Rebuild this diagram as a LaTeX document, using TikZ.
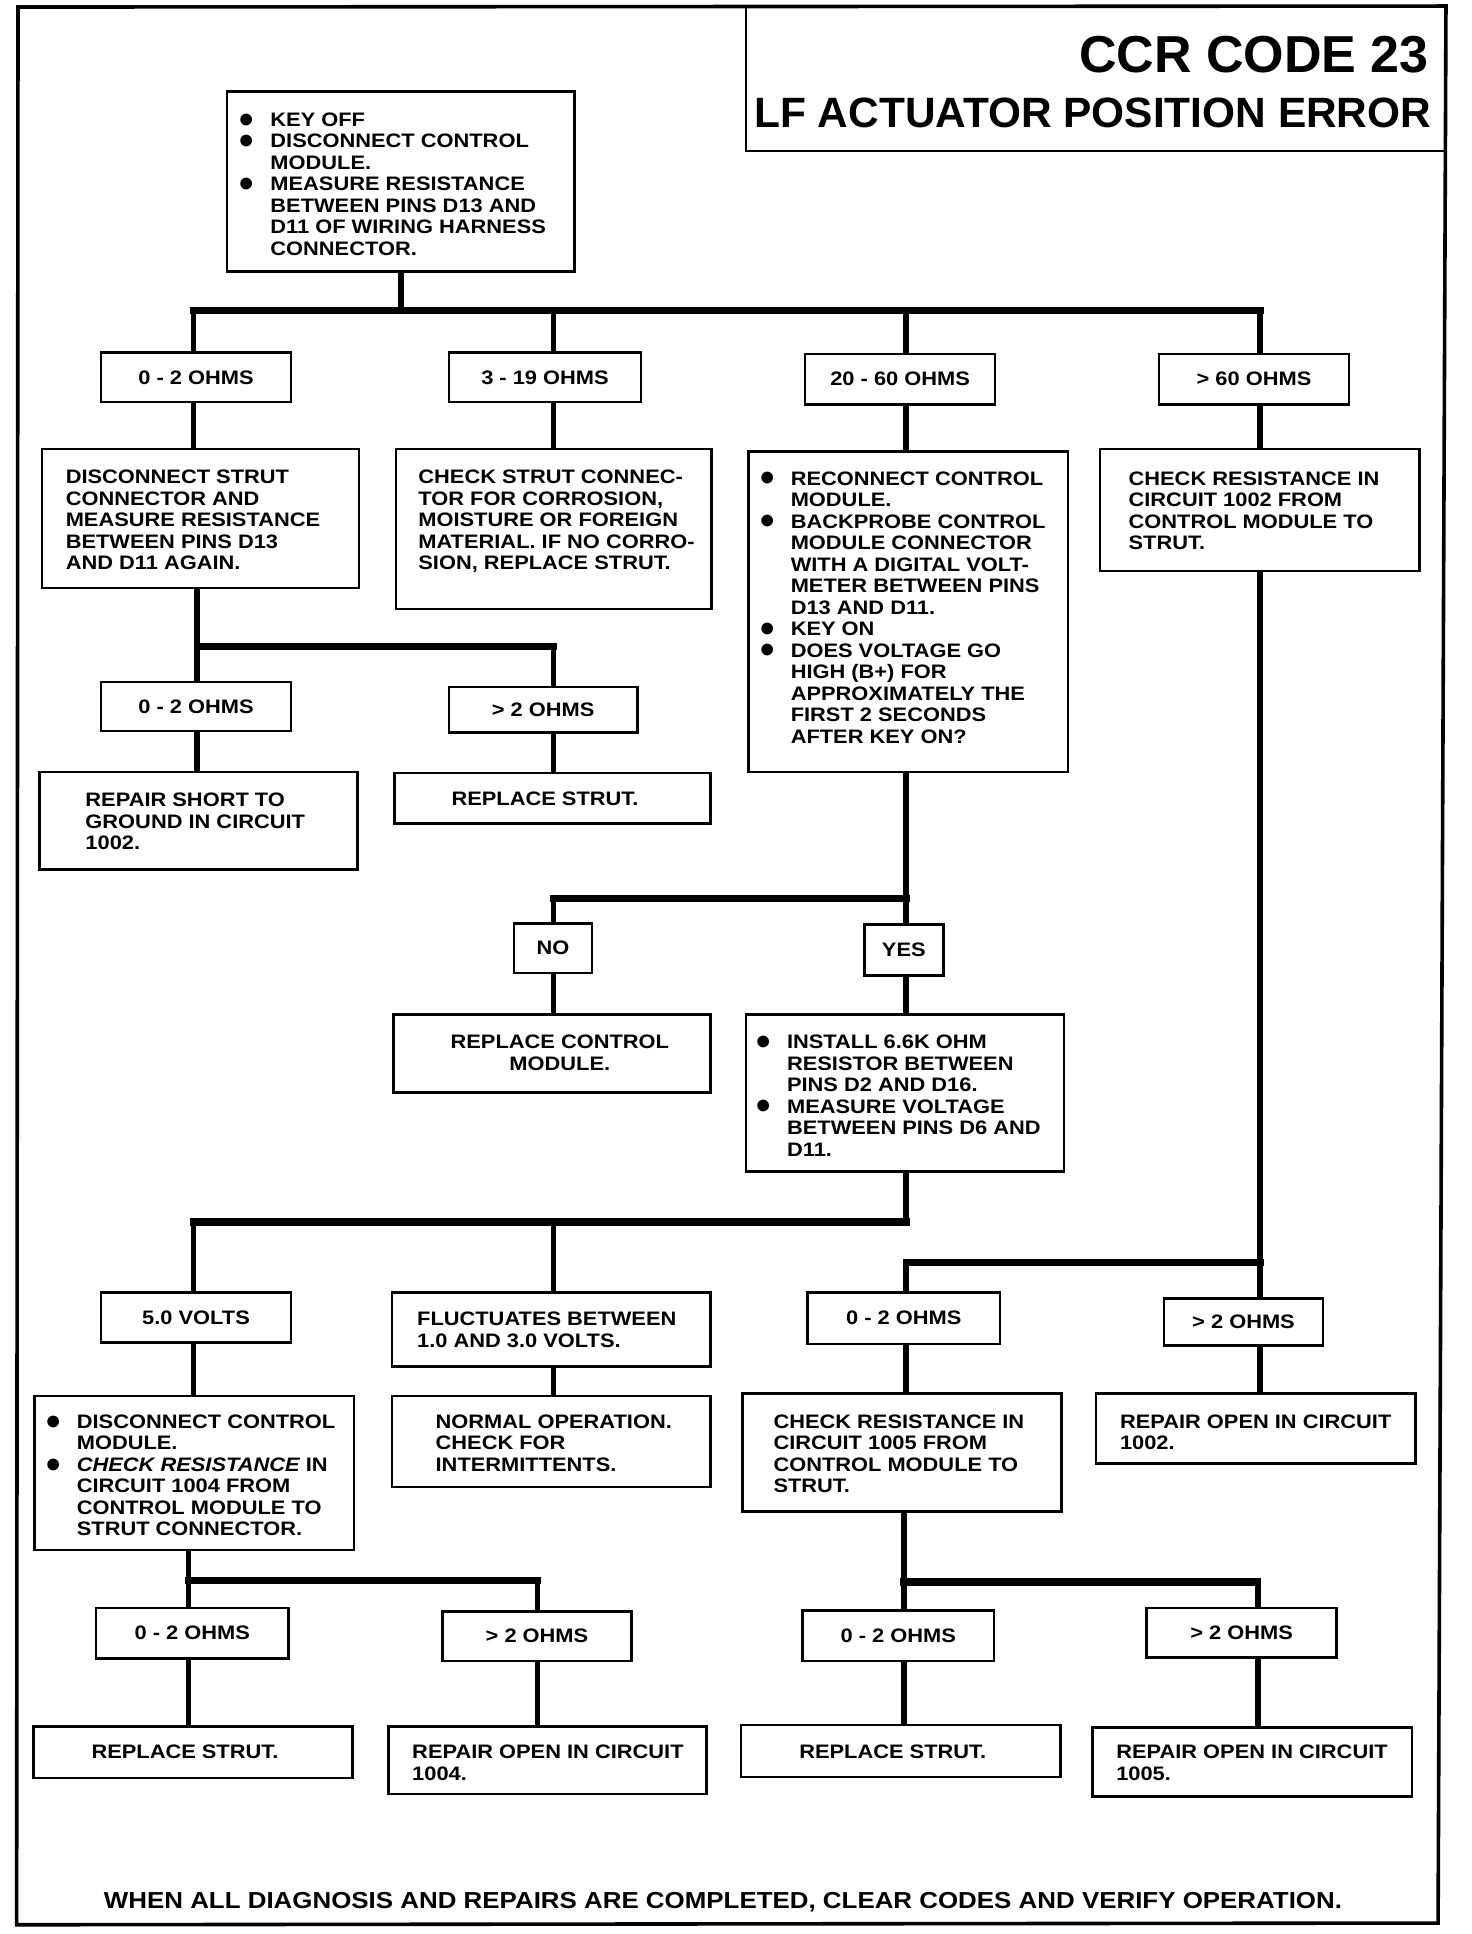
\documentclass[tikz,border=0pt]{standalone}
\usepackage{fontspec}
\usepackage{graphicx}
\setmainfont{Liberation Sans}[FakeStretch=1.12]
\newfontfamily\plainfont{Liberation Sans}
\usetikzlibrary{fit}
\newcommand\txtfont{\fontsize{9.75pt}{10.75pt}\selectfont\bfseries}
\newcommand\bul{\llap{\raisebox{-0.35em}{\scalebox{2.1}{\plainfont\bfseries\textbullet}}\hspace{8.1pt}}}
\tikzset{
  box/.style={draw, line width=1.3pt, inner sep=0pt},
  conn/.style={line width=2.8pt},
  bar/.style={line width=3.6pt, line cap=rect},
  txt/.style={anchor=north west, inner sep=0pt, align=left, font=\txtfont},
  ctxt/.style={inner sep=0pt, align=center, font=\txtfont},
}
\begin{document}
\begin{tikzpicture}[x=0.6165pt,y=-0.6165pt]
\useasboundingbox (0,0) rectangle (1193.8,1568.5);
\fill[white] (0,0) rectangle (1193.8,1568.5);
% outer frame
\draw[line width=1.8pt, line join=miter] (14.6,5.7) -- (1172.7,4.9) -- (1166.3,1559.6) -- (13.5,1561) -- cycle;
% title box
\node[draw, line width=1.3pt, inner sep=0pt, fit={(605,5.3) (1172.3,122.5)}] (title) {};
\node[anchor=base east, inner sep=0pt, font={\plainfont\fontsize{26pt}{30pt}\selectfont\bfseries}] (t1) at (1159,58.4) {CCR CODE 23};
\node[anchor=base east, inner sep=0pt, font={\plainfont\fontsize{21.2pt}{25pt}\selectfont\bfseries}] (t2) at (1161,103.8) {LF ACTUATOR POSITION ERROR};

% ---------- boxes ----------
\node[box, fit={(184,74) (466,220)}] (A) {};
\node[txt] (At) at (219,91) {\bul KEY OFF\\ \bul DISCONNECT CONTROL\\ MODULE.\\ \bul MEASURE RESISTANCE\\ BETWEEN PINS D13 AND\\ D11 OF WIRING HARNESS\\ CONNECTOR.};

\node[box, fit={(82,286) (236,326)}] (B1) {};
\node[ctxt] (B1t) at (B1.center) {0 - 2 OHMS};
\node[box, fit={(364,286) (520,326)}] (B2) {};
\node[ctxt] (B2t) at (B2.center) {3 - 19 OHMS};
\node[box, fit={(653,287) (807,328)}] (B3) {};
\node[ctxt] (B3t) at (B3.center) {20 - 60 OHMS};
\node[box, fit={(940,287) (1094,328)}] (B4) {};
\node[ctxt] (B4t) at (B4.center) {> 60 OHMS};

\node[box, fit={(34,364) (291,477)}] (C1) {};
\node[txt] (C1t) at (53,381) {DISCONNECT STRUT\\ CONNECTOR AND\\ MEASURE RESISTANCE\\ BETWEEN PINS D13\\ AND D11 AGAIN.};
\node[box, fit={(321,364) (577,494)}] (C2) {};
\node[txt] (C2t) at (339,381) {CHECK STRUT CONNEC-\\ TOR FOR CORROSION,\\ MOISTURE OR FOREIGN\\ MATERIAL. IF NO CORRO-\\ SION, REPLACE STRUT.};
\node[box, fit={(607,366) (866,626)}] (C3) {};
\node[txt] (C3t) at (641,382) {\bul RECONNECT CONTROL\\ MODULE.\\ \bul BACKPROBE CONTROL\\ MODULE CONNECTOR\\ WITH A DIGITAL VOLT-\\ METER BETWEEN PINS\\ D13 AND D11.\\ \bul KEY ON\\ \bul DOES VOLTAGE GO\\ HIGH (B+) FOR\\ APPROXIMATELY THE\\ FIRST 2 SECONDS\\ AFTER KEY ON?};
\node[box, fit={(892,364) (1151,463)}] (C4) {};
\node[txt] (C4t) at (915,382) {CHECK RESISTANCE IN\\ CIRCUIT 1002 FROM\\ CONTROL MODULE TO\\ STRUT.};

\node[box, fit={(82,553) (236,593)}] (D1) {};
\node[ctxt] (D1t) at (D1.center) {0 - 2 OHMS};
\node[box, fit={(364,557) (517,594)}] (D2) {};
\node[ctxt] (D2t) at (D2.center) {> 2 OHMS};
\node[box, fit={(32,626) (290,705)}] (E1) {};
\node[txt] (E1t) at (69,643) {REPAIR SHORT TO\\ GROUND IN CIRCUIT\\ 1002.};
\node[box, fit={(320,627) (576,668)}] (E2) {};
\node[ctxt] (E2t) at (442,648) {REPLACE STRUT.};

\node[box, fit={(417,749) (480,789)}] (NO) {};
\node[ctxt] (NOt) at (NO.center) {NO};
\node[box, fit={(701,750) (765,791)}] (YES) {};
\node[ctxt] (YESt) at (YES.center) {YES};
\node[box, fit={(319,823) (576,886)}] (F1) {};
\node[ctxt, anchor=north] (F1t) at (454,839) {REPLACE CONTROL\\ MODULE.};
\node[box, fit={(605,823) (863,950)}] (F2) {};
\node[txt] (F2t) at (638,839) {\bul INSTALL 6.6K OHM\\ RESISTOR BETWEEN\\ PINS D2 AND D16.\\ \bul MEASURE VOLTAGE\\ BETWEEN PINS D6 AND\\ D11.};

\node[box, fit={(82,1048) (236,1089)}] (G1) {};
\node[ctxt] (G1t) at (G1.center) {5.0 VOLTS};
\node[box, fit={(318,1048) (576,1108)}] (G2) {};
\node[txt] (G2t) at (338,1064) {FLUCTUATES BETWEEN\\ 1.0 AND 3.0 VOLTS.};
\node[box, fit={(655,1048) (811,1090)}] (G3) {};
\node[ctxt] (G3t) at (G3.center) {0 - 2 OHMS};
\node[box, fit={(944,1053) (1073,1091)}] (G4) {};
\node[ctxt] (G4t) at (G4.center) {> 2 OHMS};

\node[box, fit={(28,1132) (287,1257)}] (H1) {};
\node[txt] (H1t) at (62,1147) {\bul DISCONNECT CONTROL\\ MODULE.\\ \bul {\itshape CHECK RESISTANCE} IN\\ CIRCUIT 1004 FROM\\ CONTROL MODULE TO\\ STRUT CONNECTOR.};
\node[box, fit={(318,1132) (576,1206)}] (H2) {};
\node[txt] (H2t) at (353,1147) {NORMAL OPERATION.\\ CHECK FOR\\ INTERMITTENTS.};
\node[box, fit={(602,1130) (861,1226)}] (H3) {};
\node[txt] (H3t) at (627,1147) {CHECK RESISTANCE IN\\ CIRCUIT 1005 FROM\\ CONTROL MODULE TO\\ STRUT.};
\node[box, fit={(889,1130) (1148,1187)}] (H4) {};
\node[txt] (H4t) at (908,1147) {REPAIR OPEN IN CIRCUIT\\ 1002.};

\node[box, fit={(78,1304) (234,1345)}] (I1) {};
\node[ctxt] (I1t) at (I1.center) {0 - 2 OHMS};
\node[box, fit={(359,1307) (512,1347)}] (I2) {};
\node[ctxt] (I2t) at (I2.center) {> 2 OHMS};
\node[box, fit={(651,1306) (806,1347)}] (I3) {};
\node[ctxt] (I3t) at (I3.center) {0 - 2 OHMS};
\node[box, fit={(930,1304) (1084,1344)}] (I4) {};
\node[ctxt] (I4t) at (I4.center) {> 2 OHMS};

\node[box, fit={(27,1400) (286,1442)}] (J1) {};
\node[ctxt] (J1t) at (150,1421) {REPLACE STRUT.};
\node[box, fit={(315,1400) (573,1455)}] (J2) {};
\node[txt] (J2t) at (334,1415) {REPAIR OPEN IN CIRCUIT\\ 1004.};
\node[box, fit={(601,1399) (860,1441)}] (J3) {};
\node[ctxt] (J3t) at (724,1421) {REPLACE STRUT.};
\node[box, fit={(886,1401) (1145,1457)}] (J4) {};
\node[txt] (J4t) at (905,1415) {REPAIR OPEN IN CIRCUIT\\ 1005.};

\node[anchor=base west, inner sep=0pt, font=\txtfont] (foot) at (84,1548) {\resizebox{619pt}{!}{WHEN ALL DIAGNOSIS AND REPAIRS ARE COMPLETED, CLEAR CODES AND VERIFY OPERATION.}};

% ---------- connectors ----------
\coordinate (k1) at (157,252); \coordinate (k2) at (449,252);
\coordinate (k3) at (735,252); \coordinate (k4) at (1022,252);
\draw[conn] (A.south) -- (A.south |- k1);
\draw[bar] (k1) -- (k4);
\draw[conn] (k1) -- (k1 |- B1.north);
\draw[conn] (k2) -- (k2 |- B2.north);
\draw[conn] (k3) -- (k3 |- B3.north);
\draw[conn] (k4) -- (k4 |- B4.north);
\draw[conn] (k1 |- B1.south) -- (k1 |- C1.north);
\draw[conn] (k2 |- B2.south) -- (k2 |- C2.north);
\draw[conn] (k3 |- B3.south) -- (k3 |- C3.north);
\draw[conn] (k4 |- B4.south) -- (k4 |- C4.north);

% C1 branch
\coordinate (m1) at (160,524); \coordinate (m2) at (449,524);
\draw[conn] (m1 |- C1.south) -- (m1);
\draw[bar] (m1) -- (m2);
\draw[conn] (m1) -- (m1 |- D1.north);
\draw[conn] (m2) -- (m2 |- D2.north);
\draw[conn] (m1 |- D1.south) -- (m1 |- E1.north);
\draw[conn] (m2 |- D2.south) -- (m2 |- E2.north);

% C3 branch
\coordinate (n1) at (449,729); \coordinate (n2) at (735,729);
\draw[conn] (n2 |- C3.south) -- (n2);
\draw[bar] (n1) -- (n2);
\draw[conn] (n1) -- (n1 |- NO.north);
\draw[conn] (n2) -- (n2 |- YES.north);
\draw[conn] (n1 |- NO.south) -- (n1 |- F1.north);
\draw[conn] (n2 |- YES.south) -- (n2 |- F2.north);

% F2 branch
\coordinate (p1) at (157,991); \coordinate (p2) at (449,991); \coordinate (p3) at (735,991);
\draw[conn] (p3 |- F2.south) -- (p3);
\draw[bar] (p1) -- (p3);
\draw[conn] (p1) -- (p1 |- G1.north);
\draw[conn] (p2) -- (p2 |- G2.north);
\draw[conn] (p1 |- G1.south) -- (p1 |- H1.north);
\draw[conn] (p2 |- G2.south) -- (p2 |- H2.north);

% C4 branch
\coordinate (q1) at (735,1024); \coordinate (q2) at (1022,1024);
\draw[conn] (q2 |- C4.south) -- (q2 |- G4.north);
\draw[bar] (q1) -- (q2);
\draw[conn] (q1) -- (q1 |- G3.north);
\draw[conn] (q1 |- G3.south) -- (q1 |- H3.north);
\draw[conn] (q2 |- G4.south) -- (q2 |- H4.north);

% H1 branch
\coordinate (r1) at (153,1282); \coordinate (r2) at (436,1282);
\draw[conn] (r1 |- H1.south) -- (r1);
\draw[bar] (r1) -- (r2);
\draw[conn] (r1) -- (r1 |- I1.north);
\draw[conn] (r2) -- (r2 |- I2.north);
\draw[conn] (r1 |- I1.south) -- (r1 |- J1.north);
\draw[conn] (r2 |- I2.south) -- (r2 |- J2.north);

% H3 branch
\coordinate (s1) at (733,1283); \coordinate (s2) at (1020,1283);
\draw[conn] (s1 |- H3.south) -- (s1);
\draw[bar] (s1) -- (s2);
\draw[conn] (s1) -- (s1 |- I3.north);
\draw[conn] (s2) -- (s2 |- I4.north);
\draw[conn] (s1 |- I3.south) -- (s1 |- J3.north);
\draw[conn] (s2 |- I4.south) -- (s2 |- J4.north);
\end{tikzpicture}
\end{document}
